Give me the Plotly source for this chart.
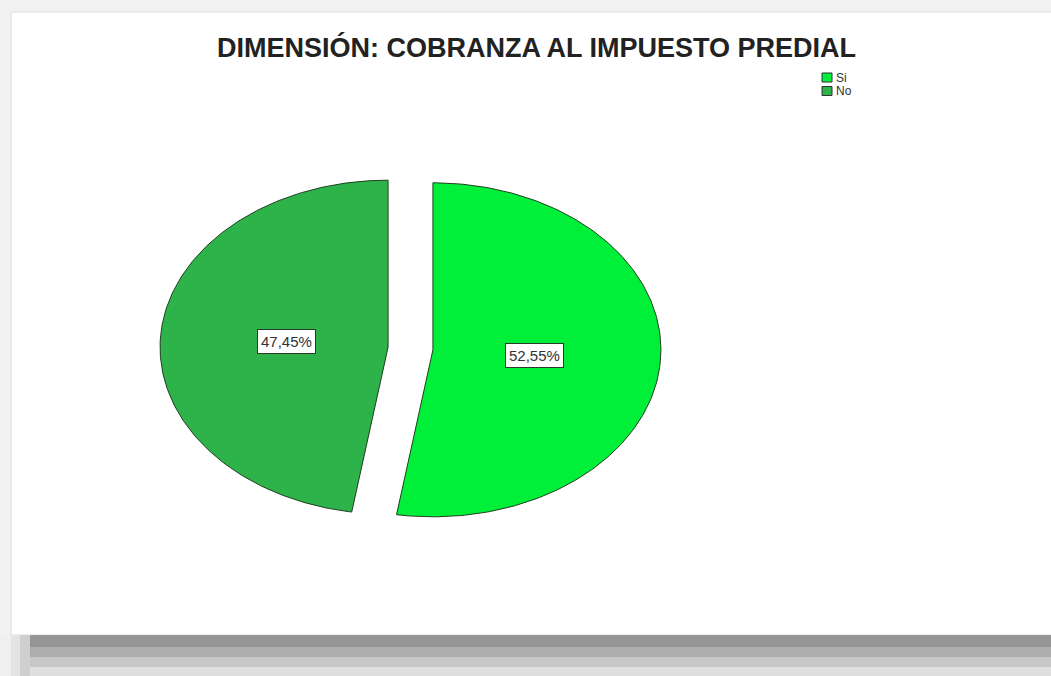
import numpy as np
import plotly.graph_objects as go

# ---- data ----
categories = ["Si", "No"]
values = [52.55, 47.45]
colors = ["#00F03A", "#2EB24A"]
title_text = "DIMENSIÓN: COBRANZA AL IMPUESTO PREDIAL"

# ---- geometry / style (pixel-like coordinates of the page) ----
W, H = 1051, 676
CX, CY = 410.5, 348.5      # pie centre
RX, RY = 228.0, 167.0      # elliptical radii (stretched pie)
EXPLODE = 22.5
LABEL_R = 0.445
EDGE = "#1E3F1E"
FONT = "Liberation Sans, Arial"

fig = go.Figure()

total = float(sum(values))
start = 0.0
annots = []
for cat, val, col in zip(categories, values, colors):
    frac = val / total
    a0 = start * 2 * np.pi
    a1 = (start + frac) * 2 * np.pi
    mid = (a0 + a1) / 2
    ox = CX + EXPLODE * np.sin(mid)
    oy = CY - EXPLODE * np.cos(mid) * (RY / RX)
    t = np.linspace(a0, a1, 200)
    xs = np.concatenate([[ox], ox + RX * np.sin(t), [ox]])
    ys = np.concatenate([[oy], oy - RY * np.cos(t), [oy]])
    fig.add_trace(go.Scatter(
        x=xs, y=ys, mode="lines", fill="toself", fillcolor=col,
        line=dict(color=EDGE, width=1), name=cat, showlegend=False,
        hoverinfo="text", text=f"{cat}: {val:.2f}%".replace(".", ","),
    ))
    annots.append(dict(
        x=ox + LABEL_R * RX * np.sin(mid), y=oy - LABEL_R * RY * np.cos(mid),
        xref="x", yref="y", showarrow=False,
        text=f"{val:.2f}%".replace(".", ","),
        font=dict(family=FONT, size=15, color="#333333"),
        bgcolor="white", bordercolor="#2a3a2a", borderwidth=1, borderpad=3,
    ))
    start += frac

# title
annots.append(dict(
    x=536.5, y=47, xref="x", yref="y", showarrow=False, text=f"<b>{title_text}</b>",
    font=dict(family=FONT, size=27, color="#222222"),
))

shapes = [
    # white panel on light-grey page
    dict(type="rect", xref="x", yref="y", x0=11, x1=W + 5, y0=12, y1=635,
         fillcolor="white", line=dict(color="#dcdcdc", width=1), layer="below"),
]
# bottom shadow bands
for (y0, y1, c) in [(635, 647, "#959595"), (647, 657, "#adadad"),
                    (657, 667, "#c7c7c7"), (667, 677, "#dfdfdf")]:
    shapes.append(dict(type="rect", xref="x", yref="y", x0=30, x1=W + 5, y0=y0, y1=y1,
                       fillcolor=c, line=dict(width=0), layer="below"))
for (x0, x1, c) in [(0, 11, "#f0f0f0"), (11, 20, "#e4e4e4"), (20, 30, "#cfcfcf")]:
    shapes.append(dict(type="rect", xref="x", yref="y", x0=x0, x1=x1, y0=635, y1=677,
                       fillcolor=c, line=dict(width=0), layer="below"))

# legend (manual, compact like SPSS)
for i, (cat, col) in enumerate(zip(categories, colors)):
    y0 = 73 + i * 13.5
    shapes.append(dict(type="rect", xref="x", yref="y", x0=822, x1=832, y0=y0, y1=y0 + 9,
                       fillcolor=col, line=dict(color="#333333", width=1)))
    annots.append(dict(x=834, y=y0 + 4.5, xref="x", yref="y", showarrow=False,
                       xanchor="left", text=cat,
                       font=dict(family=FONT, size=12, color="#333333")))

fig.update_layout(
    width=W, height=H,
    margin=dict(l=0, r=0, t=0, b=0),
    paper_bgcolor="#f2f2f2", plot_bgcolor="rgba(0,0,0,0)",
    xaxis=dict(range=[0, W], visible=False, fixedrange=True),
    yaxis=dict(range=[H, 0], visible=False, fixedrange=True),
    shapes=shapes, annotations=annots, showlegend=False,
)

fig.write_html(
    "out.html",
    config={"displayModeBar": False},
    post_script="document.body.style.margin='0';document.body.style.overflow='hidden';",
)
